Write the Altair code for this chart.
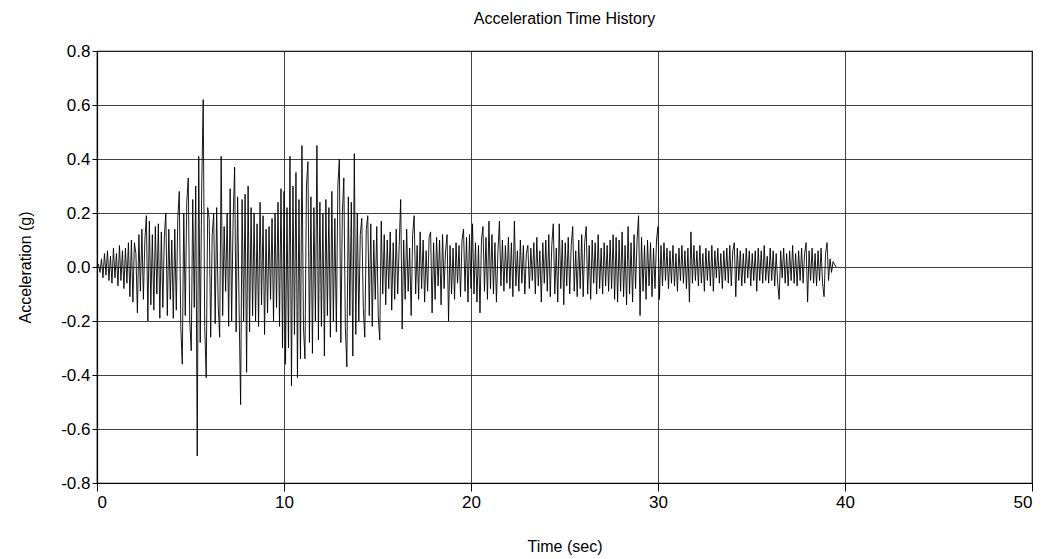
import altair as alt
import pandas as pd

# Time step of the record (sec)
dt = 0.08

# Acceleration (g), 25 samples per 2-second block
acc_00_02 = [0.00, 0.01, -0.02, 0.03, -0.04, 0.05, -0.03, 0.06, -0.05, 0.04, -0.06, 0.07, -0.04, 0.05, -0.07, 0.08, -0.05, 0.06, -0.08, 0.07, -0.06, 0.09, -0.11, 0.10, -0.13]
acc_02_04 = [0.09, 0.05, -0.17, 0.12, -0.09, 0.14, -0.12, 0.10, 0.19, -0.20, 0.17, -0.14, 0.12, -0.16, 0.15, -0.10, 0.16, -0.19, 0.13, -0.15, 0.11, 0.20, -0.18, 0.14, -0.12]
acc_04_06 = [0.10, -0.19, 0.14, -0.16, 0.18, 0.28, -0.22, -0.36, 0.20, -0.18, 0.24, 0.33, -0.20, -0.31, 0.25, -0.15, 0.30, -0.70, 0.41, -0.28, 0.30, 0.62, -0.22, -0.41, 0.22]
acc_06_08 = [0.18, -0.26, 0.12, 0.20, -0.21, 0.22, -0.14, -0.26, 0.41, -0.18, 0.15, -0.09, 0.20, -0.22, 0.29, -0.20, 0.18, 0.37, -0.24, 0.26, -0.16, -0.51, 0.25, -0.20, 0.27]
acc_08_10 = [-0.39, 0.30, -0.24, 0.22, -0.18, 0.20, -0.20, 0.16, -0.22, 0.24, -0.14, 0.19, -0.25, 0.14, -0.17, 0.15, -0.12, 0.18, -0.20, 0.20, -0.15, 0.24, -0.22, 0.29, -0.30]
acc_10_12 = [0.28, -0.36, 0.22, -0.30, 0.41, -0.44, 0.30, -0.25, 0.35, -0.41, 0.25, -0.34, 0.45, -0.22, -0.34, 0.30, 0.39, -0.28, 0.26, -0.32, 0.22, -0.20, 0.45, -0.27, 0.24]
acc_12_14 = [-0.22, 0.20, -0.33, 0.25, -0.18, 0.22, -0.26, 0.28, -0.20, 0.18, -0.24, 0.30, 0.40, -0.28, 0.20, 0.33, -0.22, -0.37, 0.26, -0.18, 0.24, -0.33, 0.42, -0.25, 0.20]
acc_14_16 = [-0.20, 0.12, 0.18, -0.15, -0.26, 0.14, 0.19, -0.18, 0.16, -0.22, 0.10, -0.12, 0.15, -0.18, -0.27, 0.17, -0.10, 0.12, -0.14, 0.10, -0.08, 0.13, -0.16, 0.09, -0.12]
acc_16_18 = [0.14, -0.10, 0.08, 0.25, -0.23, 0.10, -0.12, 0.14, -0.09, 0.07, -0.18, 0.12, 0.19, -0.10, 0.08, -0.12, 0.13, -0.08, 0.10, -0.13, 0.06, -0.09, 0.11, 0.13, -0.17]
acc_18_20 = [0.09, -0.12, 0.11, -0.07, 0.10, -0.14, 0.12, -0.08, 0.06, 0.12, -0.20, 0.08, -0.10, 0.07, -0.12, 0.09, -0.06, 0.08, -0.11, 0.10, 0.14, -0.09, 0.11, -0.13, 0.12]
acc_20_22 = [-0.08, 0.16, -0.10, 0.09, -0.13, 0.08, -0.17, 0.10, 0.15, -0.09, 0.11, -0.12, 0.17, -0.08, 0.12, -0.10, 0.09, -0.13, 0.06, 0.17, -0.07, 0.10, -0.09, 0.08, -0.06]
acc_22_24 = [0.11, -0.08, 0.09, -0.11, 0.17, -0.07, 0.06, -0.09, 0.10, -0.06, 0.08, -0.10, 0.05, 0.08, -0.08, 0.07, -0.05, 0.09, -0.10, 0.11, -0.07, 0.06, -0.13, 0.09, -0.06]
acc_24_26 = [0.10, -0.09, 0.12, -0.11, 0.08, 0.16, -0.10, 0.07, -0.13, 0.16, -0.08, 0.10, -0.14, 0.09, -0.07, 0.11, -0.10, 0.08, 0.15, -0.09, 0.06, -0.11, 0.10, -0.08, 0.12]
acc_26_28 = [-0.11, 0.09, 0.15, -0.10, 0.08, -0.12, 0.10, -0.06, 0.09, -0.10, 0.12, -0.08, 0.07, -0.10, 0.09, -0.07, 0.08, -0.09, 0.10, -0.08, 0.12, -0.12, 0.11, -0.13, 0.10]
acc_28_30 = [-0.09, 0.13, -0.11, 0.08, -0.14, 0.15, -0.10, 0.09, -0.13, 0.12, -0.08, 0.10, 0.19, -0.18, 0.11, -0.09, 0.08, -0.12, 0.10, -0.07, 0.09, -0.11, 0.07, -0.08, 0.10]
acc_30_32 = [0.15, -0.12, 0.08, -0.07, 0.09, -0.05, 0.07, -0.08, 0.06, -0.06, 0.08, -0.07, 0.05, -0.09, 0.07, -0.05, 0.08, -0.06, 0.06, -0.08, 0.07, -0.13, 0.13, -0.06, 0.08]
acc_32_34 = [-0.05, 0.06, -0.07, 0.08, -0.06, 0.05, -0.09, 0.07, -0.05, 0.06, -0.07, 0.08, -0.09, 0.06, -0.04, 0.07, -0.06, 0.05, -0.08, 0.06, -0.05, 0.07, -0.06, 0.08, -0.07]
acc_34_36 = [0.06, 0.09, -0.11, 0.07, -0.05, 0.06, -0.07, 0.05, -0.06, 0.07, -0.04, 0.06, -0.07, 0.05, -0.05, 0.06, -0.09, 0.07, -0.05, 0.06, -0.06, 0.08, -0.05, 0.04, -0.06]
acc_36_38 = [0.07, -0.05, 0.06, -0.07, 0.05, -0.06, -0.12, 0.06, -0.04, 0.07, -0.06, 0.05, -0.07, 0.06, -0.05, 0.08, -0.06, 0.05, -0.07, 0.06, -0.05, 0.07, -0.06, 0.05, 0.09]
acc_38_40 = [-0.13, 0.06, -0.05, 0.07, -0.06, 0.05, -0.07, 0.06, -0.05, 0.07, -0.06, -0.11, 0.05, 0.09, -0.05, 0.03, -0.02, 0.02, 0.01, 0.00]

blocks = [acc_00_02, acc_02_04, acc_04_06, acc_06_08, acc_08_10, acc_10_12, acc_12_14,
          acc_14_16, acc_16_18, acc_18_20, acc_20_22, acc_22_24, acc_24_26, acc_26_28,
          acc_28_30, acc_30_32, acc_32_34, acc_34_36, acc_36_38, acc_38_40]
acc = [v for b in blocks for v in b]
time = [round(i * dt, 2) for i in range(len(acc))]

x_ticks = [0, 10, 20, 30, 40, 50]
y_ticks = [-0.8, -0.6, -0.4, -0.2, 0.0, 0.2, 0.4, 0.6, 0.8]

df = pd.DataFrame({"t": time, "a": acc})

FONT = "Liberation Sans"

chart = alt.Chart(df).mark_line(color="black", strokeWidth=0.9).encode(
    x=alt.X("t:Q", title="Time (sec)",
            scale=alt.Scale(domain=[0, 50], nice=False, zero=False),
            axis=alt.Axis(values=x_ticks, format="d", grid=True, tickSize=8,
                          labelPadding=3, titlePadding=28)),
    y=alt.Y("a:Q", title="Acceleration (g)",
            scale=alt.Scale(domain=[-0.8, 0.8], nice=False),
            axis=alt.Axis(values=y_ticks, grid=True, tickSize=5,
                          labelExpr="(datum.value < 0 ? '-' : '') + format(abs(datum.value), '.1f')",
                          labelPadding=2, titlePadding=27)),
).properties(
    width=935,
    height=432,
    title=alt.TitleParams("Acceleration Time History", fontSize=16, font=FONT,
                          fontWeight="normal", offset=15, anchor="middle"),
    autosize="none",
    padding={"left": 97, "top": 51, "right": 14, "bottom": 76},
).configure_axis(
    labelFont=FONT, titleFont=FONT, labelFontSize=17, titleFontSize=16,
    titleFontWeight="normal", labelColor="black", titleColor="black",
    gridColor="#222222", gridOpacity=0.85, gridWidth=1,
    domainColor="black", tickColor="black", domainWidth=1.2,
).configure_view(
    stroke="black", strokeWidth=1.2
)

chart.save("out.html", embed_options={"renderer": "svg", "actions": False})
